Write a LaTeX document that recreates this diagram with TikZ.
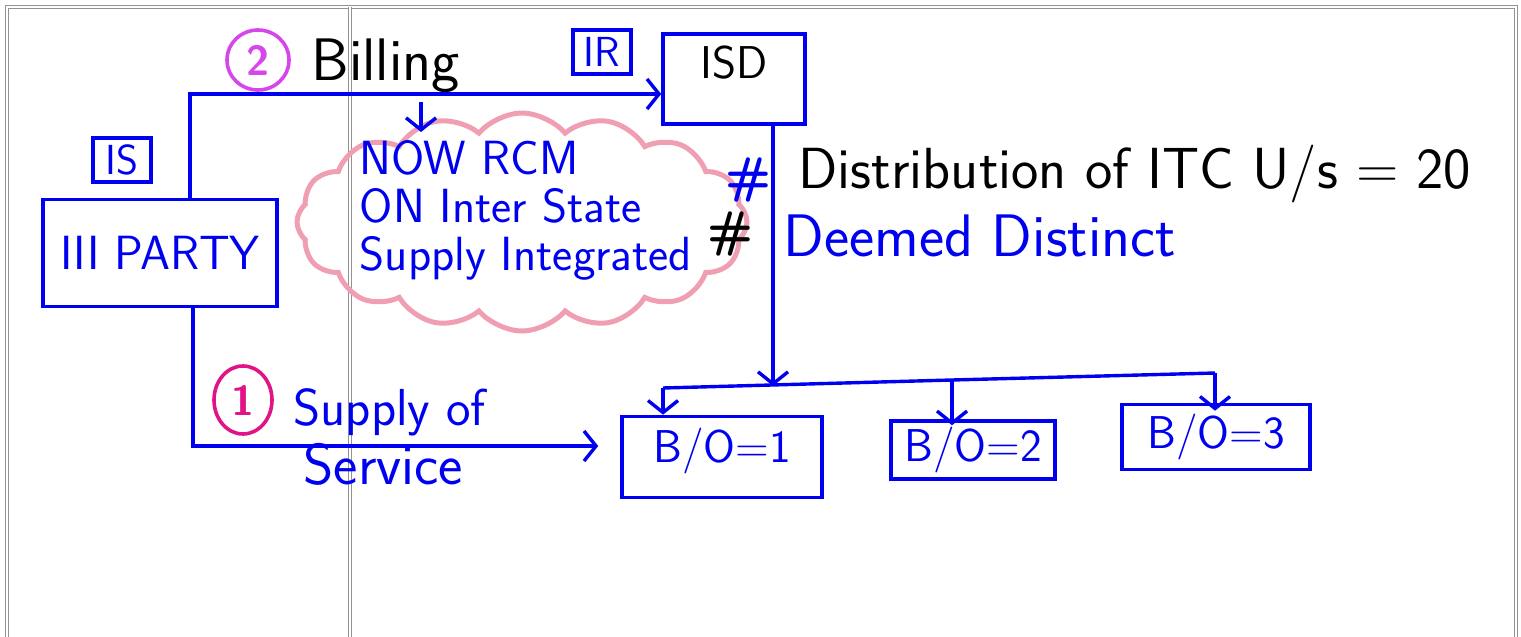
\documentclass[tikz,border=0pt]{standalone}
\usepackage{tikz}
\usetikzlibrary{positioning, arrows.meta, shapes.symbols, shapes.geometric}
\definecolor{inkblue}{RGB}{0,0,240}
\definecolor{cloudpink}{RGB}{240,158,178}
\definecolor{numpink}{RGB}{225,20,135}
\definecolor{nummagenta}{RGB}{215,70,235}
\tikzset{
	>={Straight Barb[length=12pt,width=30pt]}, % open heads, as drawn by hand
	flow/.style={draw=inkblue, line width=3.4pt}, % the blue connectors
	box/.style={draw=inkblue, line width=3.6pt, inner sep=6pt, font=\sffamily\fontsize{46}{50}\selectfont},
	hand/.style={font=\sffamily\fontsize{#1}{#1}\selectfont},
	hashmark/.style={font=\sffamily\bfseries\fontsize{50}{50}\selectfont},
	tag/.style={draw=inkblue, line width=3.2pt, text=inkblue, inner sep=4pt, minimum width=58pt, minimum height=44pt, font=\sffamily\fontsize{42}{42}\selectfont},
	numring/.style={draw=#1, text=#1, line width=3.6pt, ellipse, inner sep=2pt, font=\sffamily\bfseries\fontsize{42}{42}\selectfont},
	frame/.style={draw=gray!85, double, double distance=1.6pt, line width=1pt},
}
\begin{document}
\begin{tikzpicture}[x=1pt, y=-1pt]
	\useasboundingbox (0,0) rectangle (1521,637);
	% page frame
	\draw[frame] (7,645) -- (7,7) -- (1516,7) -- (1516,645);
	\draw[frame] (350,7) -- (350,645);

	% boxes
	\node[box, minimum width=234pt, minimum height=107pt, text=inkblue, font=\sffamily\fontsize{48}{50}\selectfont] (party) at (160,253) {III PARTY};
	\node[box, minimum width=142pt, minimum height=90pt, text height=34pt, text depth=36pt] (isd) at (734,79) {ISD};
	\node[box, minimum width=200pt, minimum height=81pt, text=inkblue, text height=34pt, text depth=24pt] (bo1) at (722,457) {B/O=1};
	\node[box, minimum width=164pt, minimum height=55pt, text=inkblue] (bo2) at (973,450) {B/O=2};
	\node[box, minimum width=188pt, minimum height=65pt, text=inkblue] (bo3) at (1216,437) {B/O=3};

	% labels on the parties
	\node[tag] (labIS) at (122,160) {IS};
	\node[tag] (labIR) at (602,52) {IR};

	% billing, 2
	\node[numring=nummagenta, minimum width=62pt, minimum height=60pt] (num2) at (258,60) {2};
	\node[hand=60, anchor=base west] (billing) at (308,80) {Billing};
	\coordinate (bill) at (190,94);
	\draw[flow,->] (party.north -| bill) -- (bill) -- (bill -| isd.west);

	% supply of service, 1
	\node[numring=numpink, minimum width=58pt, minimum height=68pt] (num1) at (243,400) {1};
	\node[hand=52, text=inkblue, anchor=base west] (supply) at (290,425) {Supply of};
	\node[hand=58, text=inkblue, anchor=base west] (service) at (300,484) {Service};
	\coordinate (sup) at (193,446);
	\draw[flow,->] (party.south -| sup) -- (sup) -- ([xshift=-22pt]sup -| bo1.west);

	% the note in the cloud
	\node[cloud, cloud puffs=16, cloud puff arc=100, aspect=2, draw=cloudpink, line width=5pt,
		minimum width=450pt, minimum height=218pt] (cloud) at (522,222) {};
	\node[text=inkblue, align=left, font=\sffamily\fontsize{48}{48}\selectfont] (rcm) at (526,210)
		{NOW RCM\\ON Inter State\\Supply Integrated};
	\coordinate (mark) at (421,102);
	\draw[flow,->] (mark) -- ++(0,30);

	% ISD to the branches
	\node[hashmark, text=inkblue] (hashA) at (748,180) {\#};
	\node[hashmark] (hashB) at (730,234) {\#};
	\node[hand=58, anchor=base west] (dist) at (795,188) {Distribution of ITC U/s = 20};
	\node[hand=60, text=inkblue, anchor=base west] (deemed) at (780,256) {Deemed Distinct};

	\coordinate (split) at (773,386);
	\coordinate (b1) at (663,388);
	\coordinate (b2) at (952,380);
	\coordinate (b3) at (1215,373);
	\draw[flow,->] (isd.south -| split) -- (split);
	\draw[flow] (b1) -- (b2) -- (b3);
	\draw[flow,->] (b1) -- (b1 |- bo1.north);
	\draw[flow,->] (b2) -- ([yshift=-6pt]b2 |- bo2.north);
	\draw[flow,->] (b3) -- ([yshift=-8pt]b3 |- bo3.north);
\end{tikzpicture}
\end{document}
